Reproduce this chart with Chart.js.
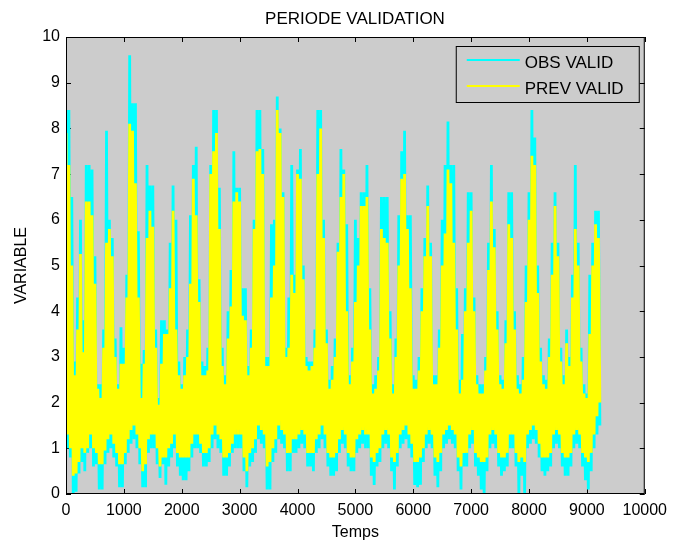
<!DOCTYPE html>
<html>
<head>
<meta charset="utf-8">
<title>PERIODE VALIDATION</title>
<script src="https://cdn.jsdelivr.net/npm/chart.js@4.4.0/dist/chart.umd.min.js"></script>
<style>
  html, body { margin: 0; padding: 0; background: #ffffff; }
  #wrap { width: 674px; height: 545px; }
</style>
</head>
<body>
<div id="wrap"><canvas id="graphe" width="674" height="545"></canvas></div>
<script>
// Instants of the sampled envelope (pas de 50)
const temps = [
  0, 50, 100, 150, 200, 250, 300, 350, 400, 450,
  500, 550, 600, 650, 700, 750, 800, 850, 900, 950,
  1000, 1050, 1100, 1150, 1200, 1250, 1300, 1350, 1400, 1450,
  1500, 1550, 1600, 1650, 1700, 1750, 1800, 1850, 1900, 1950,
  2000, 2050, 2100, 2150, 2200, 2250, 2300, 2350, 2400, 2450,
  2500, 2550, 2600, 2650, 2700, 2750, 2800, 2850, 2900, 2950,
  3000, 3050, 3100, 3150, 3200, 3250, 3300, 3350, 3400, 3450,
  3500, 3550, 3600, 3650, 3700, 3750, 3800, 3850, 3900, 3950,
  4000, 4050, 4100, 4150, 4200, 4250, 4300, 4350, 4400, 4450,
  4500, 4550, 4600, 4650, 4700, 4750, 4800, 4850, 4900, 4950,
  5000, 5050, 5100, 5150, 5200, 5250, 5300, 5350, 5400, 5450,
  5500, 5550, 5600, 5650, 5700, 5750, 5800, 5850, 5900, 5950,
  6000, 6050, 6100, 6150, 6200, 6250, 6300, 6350, 6400, 6450,
  6500, 6550, 6600, 6650, 6700, 6750, 6800, 6850, 6900, 6950,
  7000, 7050, 7100, 7150, 7200, 7250, 7300, 7350, 7400, 7450,
  7500, 7550, 7600, 7650, 7700, 7750, 7800, 7850, 7900, 7950,
  8000, 8050, 8100, 8150, 8200, 8250, 8300, 8350, 8400, 8450,
  8500, 8550, 8600, 8650, 8700, 8750, 8800, 8850, 8900, 8950,
  9000, 9050, 9100, 9150, 9200
];

// OBS VALID : upper and lower values in each step
const obsHaut = [
  8.4, 8.4, 6.5, 2.9, 4.3, 6.0, 3.8, 7.2, 7.2, 7.1,
  5.2, 2.4, 2.4, 3.6, 7.95, 6.0, 5.6, 3.4, 2.4, 3.65,
  3.2, 4.8, 9.6, 8.55, 8.55, 5.75, 2.85, 3.15, 7.2, 6.75,
  6.75, 3.6, 2.1, 3.8, 3.8, 3.6, 5.5, 6.75, 6.0, 2.9,
  2.4, 3.0, 3.6, 6.1, 7.2, 7.6, 4.7, 2.9, 2.8, 3.2,
  7.2, 8.4, 8.4, 6.7, 3.2, 2.6, 4.0, 4.9, 7.5, 6.7,
  6.7, 4.5, 4.5, 2.8, 3.6, 6.0, 8.4, 8.4, 7.55, 3.0,
  3.0, 5.9, 6.0, 8.7, 8.0, 6.6, 3.2, 4.3, 7.2, 4.8,
  7.1, 7.55, 5.0, 3.0, 2.9, 2.9, 3.6, 8.4, 8.4, 6.0,
  3.6, 2.5, 2.8, 3.4, 5.5, 7.55, 7.1, 5.9, 2.6, 3.2,
  6.0, 5.6, 6.6, 6.6, 7.2, 4.5, 2.4, 2.6, 3.0, 6.5,
  6.5, 6.5, 4.0, 2.4, 3.4, 6.1, 7.5, 7.95, 6.1, 6.1,
  2.6, 2.5, 3.0, 4.5, 5.6, 6.75, 5.5, 2.6, 2.6, 3.6,
  6.0, 7.2, 8.15, 7.2, 7.2, 4.5, 2.5, 3.5, 4.5, 6.6,
  6.6, 4.3, 2.6, 2.4, 2.4, 3.0, 5.5, 7.2, 5.8, 4.0,
  2.6, 2.5, 3.8, 6.6, 6.6, 4.0, 2.6, 2.4, 3.0, 5.0,
  6.6, 8.4, 7.8, 5.0, 3.2, 2.6, 2.5, 3.4, 5.5, 6.6,
  5.5, 3.2, 2.6, 3.6, 3.0, 4.8, 7.2, 5.5, 3.2, 2.4,
  2.2, 4.8, 5.5, 6.2, 6.2
];
const obsBas = [
  1.0, 0.8, 0.0, 0.05, 0.45, 0.7, 0.5, 0.9, 1.0, 0.6,
  0.65, 0.1, 0.1, 0.65, 0.9, 1.0, 0.8, 0.6, 0.15, 0.15,
  0.65, 0.9, 1.1, 1.2, 1.0, 0.65, 0.15, 0.15, 0.9, 1.0,
  1.0, 0.65, 0.35, 0.65, 0.2, 0.6, 0.8, 1.0, 0.6, 0.4,
  0.3, 0.3, 0.5, 0.8, 1.0, 1.0, 0.9, 0.6, 0.6, 0.7,
  1.0, 1.2, 1.0, 0.9, 0.4, 0.4, 0.6, 0.9, 1.0, 1.0,
  1.0, 0.5, 0.15, 0.6, 0.7, 0.9, 1.2, 1.1, 1.0, 0.1,
  0.1, 0.7, 0.9, 1.2, 1.1, 1.0, 0.5, 0.5, 0.9, 0.9,
  1.0, 1.1, 1.0, 0.6, 0.6, 0.5, 0.9, 1.0, 1.2, 1.0,
  0.6, 0.4, 0.4, 0.5, 0.9, 1.1, 1.0, 0.6, 0.5, 0.5,
  0.9, 1.0, 1.1, 1.0, 1.0, 0.4, 0.2, 0.6, 0.7, 1.0,
  1.1, 1.0, 0.5, 0.1, 0.6, 1.0, 1.1, 1.2, 1.0, 0.8,
  0.2, 0.15, 0.2, 0.7, 1.0, 1.1, 1.0, 0.4, 0.15, 0.5,
  1.0, 1.1, 1.2, 1.1, 1.0, 0.5, 0.1, 0.6, 0.6, 1.0,
  1.1, 0.6, 0.4, 0.1, 0.0, 0.5, 1.0, 1.1, 1.0, 0.6,
  0.4, 0.5, 0.6, 1.0, 1.0, 0.6, 0.0, 0.4, 0.0, 1.0,
  1.1, 1.2, 1.1, 0.8, 0.5, 0.4, 0.5, 0.6, 1.0, 1.1,
  1.0, 0.6, 0.4, 0.4, 0.6, 1.0, 1.1, 1.0, 0.6, 0.3,
  0.1, 0.5, 1.0, 1.3, 1.5
];

// PREV VALID : upper and lower values in each step
const prevHaut = [
  7.9, 7.2, 5.0, 2.6, 3.6, 5.25, 3.1, 6.4, 6.4, 6.1,
  4.6, 2.3, 2.1, 3.2, 5.5, 5.8, 5.2, 3.0, 2.3, 2.85,
  2.85, 4.3, 8.1, 7.95, 6.8, 4.3, 2.1, 2.85, 5.6, 6.2,
  5.85, 3.2, 1.95, 2.85, 3.5, 3.5, 4.5, 6.2, 3.6, 2.6,
  2.3, 2.6, 3.0, 4.6, 6.9, 6.1, 4.2, 2.6, 2.6, 2.7,
  7.0, 7.5, 7.9, 5.8, 2.8, 2.4, 3.4, 4.1, 6.4, 6.6,
  6.4, 3.9, 3.8, 2.6, 3.2, 5.8, 7.5, 7.55, 7.0, 2.8,
  2.8, 4.3, 5.0, 8.4, 7.9, 6.5, 3.0, 3.2, 4.8, 4.4,
  7.0, 6.9, 4.7, 2.8, 2.7, 2.8, 3.2, 7.0, 8.0, 5.6,
  3.3, 2.3, 2.5, 3.0, 5.3, 6.5, 7.0, 4.0, 2.4, 2.9,
  4.2, 5.0, 6.3, 6.3, 6.5, 3.6, 2.2, 2.3, 2.7, 5.8,
  5.6, 5.5, 3.4, 2.2, 3.0, 5.0, 6.9, 7.0, 5.8, 4.5,
  2.3, 2.3, 2.7, 4.0, 5.2, 6.3, 5.2, 2.4, 2.4, 3.2,
  5.0, 5.7, 7.1, 6.8, 5.5, 3.6, 2.2, 2.5, 4.0, 5.5,
  6.2, 4.0, 2.4, 2.2, 2.2, 2.7, 4.9, 6.4, 5.4, 3.6,
  2.4, 2.3, 3.3, 5.9, 5.6, 3.6, 2.3, 2.2, 2.5, 4.2,
  6.0, 7.4, 7.2, 4.4, 2.9, 2.4, 2.3, 3.0, 4.8, 6.3,
  5.2, 2.9, 2.4, 3.3, 2.8, 4.3, 5.8, 5.0, 2.9, 2.2,
  2.1, 3.5, 5.0, 5.9, 5.6
];
const prevBas = [
  1.3, 1.0, 0.4, 0.45, 0.7, 1.0, 0.9, 1.0, 1.3, 1.0,
  0.9, 0.65, 0.65, 0.95, 1.2, 1.3, 1.1, 0.9, 0.65, 0.65,
  0.9, 1.2, 1.4, 1.5, 1.3, 1.0, 0.5, 0.65, 1.2, 1.3,
  1.3, 1.0, 0.6, 0.8, 0.8, 1.0, 1.1, 1.3, 0.9, 0.8,
  0.8, 0.8, 0.8, 1.1, 1.3, 1.3, 1.1, 0.9, 0.9, 1.0,
  1.3, 1.5, 1.3, 1.2, 0.8, 0.8, 0.9, 1.1, 1.3, 1.3,
  1.3, 0.8, 0.5, 0.9, 1.0, 1.2, 1.5, 1.4, 1.3, 0.6,
  0.7, 1.0, 1.2, 1.5, 1.4, 1.3, 0.9, 0.9, 1.2, 1.2,
  1.3, 1.4, 1.3, 0.9, 0.9, 0.9, 1.2, 1.3, 1.5, 1.3,
  0.9, 0.8, 0.8, 0.9, 1.2, 1.4, 1.3, 0.9, 0.8, 0.8,
  1.2, 1.3, 1.4, 1.3, 1.3, 0.8, 0.7, 0.9, 1.0, 1.3,
  1.4, 1.3, 0.8, 0.7, 0.9, 1.3, 1.4, 1.5, 1.3, 1.1,
  0.7, 0.7, 0.8, 1.0, 1.3, 1.4, 1.3, 0.8, 0.7, 0.9,
  1.3, 1.4, 1.5, 1.4, 1.3, 0.8, 0.6, 0.9, 0.9, 1.3,
  1.4, 0.9, 0.8, 0.7, 0.7, 0.8, 1.3, 1.4, 1.3, 0.9,
  0.8, 0.8, 0.9, 1.3, 1.3, 0.9, 0.7, 0.8, 0.7, 1.3,
  1.4, 1.5, 1.4, 1.1, 0.8, 0.8, 0.8, 0.9, 1.3, 1.4,
  1.3, 0.9, 0.8, 0.8, 0.9, 1.3, 1.4, 1.3, 0.9, 0.8,
  0.7, 0.9, 1.3, 1.7, 2.0
];

// Axis ticks
const xTicks = [0, 1000, 2000, 3000, 4000, 5000, 6000, 7000, 8000, 9000, 10000];
const yTicks = [0, 1, 2, 3, 4, 5, 6, 7, 8, 9, 10];

const POLICE = "'Liberation Sans', Arial, Helvetica, sans-serif";

// Each step draws its top value then its bottom value, giving the dense band
function bande(haut, bas) {
  const pts = [];
  temps.forEach((t, i) => {
    pts.push({ x: t, y: haut[i] });
    pts.push({ x: t + 25, y: bas[i] });
  });
  return pts;
}

// Gray axes box, inward ticks, legend and texts
const cadre = {
  id: 'cadre',
  beforeDraw(chart) {
    const { ctx, chartArea: a } = chart;
    ctx.save();
    ctx.fillStyle = '#ffffff';
    ctx.fillRect(0, 0, chart.width, chart.height);
    ctx.fillStyle = '#cccccc';
    ctx.fillRect(a.left, a.top, a.right - a.left, a.bottom - a.top);
    ctx.restore();
  },
  beforeDatasetsDraw(chart) {
    const { ctx, chartArea: a, scales } = chart;
    ctx.save();
    ctx.strokeStyle = '#000000';
    ctx.lineWidth = 1;
    ctx.beginPath();
    xTicks.forEach(v => {
      const px = Math.round(scales.x.getPixelForValue(v)) + 0.5;
      ctx.moveTo(px, a.bottom); ctx.lineTo(px, a.bottom - 5);
      ctx.moveTo(px, a.top); ctx.lineTo(px, a.top + 5);
    });
    yTicks.forEach(v => {
      const py = Math.round(scales.y.getPixelForValue(v)) + 0.5;
      ctx.moveTo(a.left, py); ctx.lineTo(a.left + 5, py);
      ctx.moveTo(a.right, py); ctx.lineTo(a.right - 5, py);
    });
    ctx.stroke();
    ctx.restore();
  },
  afterDatasetsDraw(chart) {
    const { ctx, chartArea: a } = chart;
    ctx.save();
    ctx.strokeStyle = '#000000';
    ctx.lineWidth = 1;
    ctx.strokeRect(a.left + 0.5, a.top + 0.5, a.right - a.left - 1, a.bottom - a.top - 1);

    // legend
    const lx = a.right - 189, ly = a.top + 9, lw = 183, lh = 56;
    ctx.fillStyle = '#cccccc';
    ctx.fillRect(lx, ly, lw, lh);
    ctx.strokeRect(lx + 0.5, ly + 0.5, lw, lh);
    ctx.font = '17px ' + POLICE;
    ctx.textBaseline = 'alphabetic';
    ctx.textAlign = 'left';
    chart.data.datasets.forEach((ds, i) => {
      const yy = ly + 14 + i * 26;
      ctx.strokeStyle = ds.borderColor;
      ctx.lineWidth = 2;
      ctx.beginPath();
      ctx.moveTo(lx + 11, yy); ctx.lineTo(lx + 64, yy);
      ctx.stroke();
      ctx.fillStyle = '#000000';
      ctx.fillText(ds.label, lx + 69, yy + 7.5);
    });

    // titles
    ctx.fillStyle = '#000000';
    ctx.textAlign = 'center';
    ctx.textBaseline = 'alphabetic';
    ctx.font = '17px ' + POLICE;
    ctx.fillText('PERIODE VALIDATION', 355, 24);
    ctx.font = '16px ' + POLICE;
    ctx.textBaseline = 'middle';
    ctx.fillText('Temps', (a.left + a.right) / 2, 533);
    ctx.translate(22, (a.top + a.bottom) / 2);
    ctx.rotate(-Math.PI / 2);
    ctx.fillText('VARIABLE', 0, 0);
    ctx.restore();
  }
};

new Chart(document.getElementById('graphe'), {
  type: 'line',
  data: {
    datasets: [
      { label: 'OBS VALID', data: bande(obsHaut, obsBas), borderColor: '#00ffff',
        borderWidth: 2.8, pointRadius: 0, fill: false, tension: 0, order: 2 },
      { label: 'PREV VALID', data: bande(prevHaut, prevBas), borderColor: '#ffff00',
        borderWidth: 2.8, pointRadius: 0, fill: false, tension: 0, order: 1 }
    ]
  },
  options: {
    responsive: false,
    animation: false,
    devicePixelRatio: 1,
    layout: { padding: { top: 37, right: 26, bottom: 0, left: 0 } },
    plugins: { legend: { display: false }, tooltip: { enabled: false }, title: { display: false } },
    scales: {
      x: {
        type: 'linear', min: 0, max: 10000,
        afterBuildTicks: s => { s.ticks = xTicks.map(v => ({ value: v })); },
        afterFit: s => { s.height = 51; },
        grid: { display: false, drawTicks: false },
        border: { display: false },
        ticks: { color: '#000000', font: { family: POLICE, size: 16 }, padding: 7,
                 maxRotation: 0, autoSkip: false, callback: v => String(v) }
      },
      y: {
        type: 'linear', min: 0, max: 10,
        afterBuildTicks: s => { s.ticks = yTicks.map(v => ({ value: v })); },
        afterFit: s => { s.width = 66; },
        grid: { display: false, drawTicks: false },
        border: { display: false },
        ticks: { color: '#000000', font: { family: POLICE, size: 16 }, padding: 6,
                 autoSkip: false, callback: v => String(v) }
      }
    }
  },
  plugins: [cadre]
});
</script>
</body>
</html>
